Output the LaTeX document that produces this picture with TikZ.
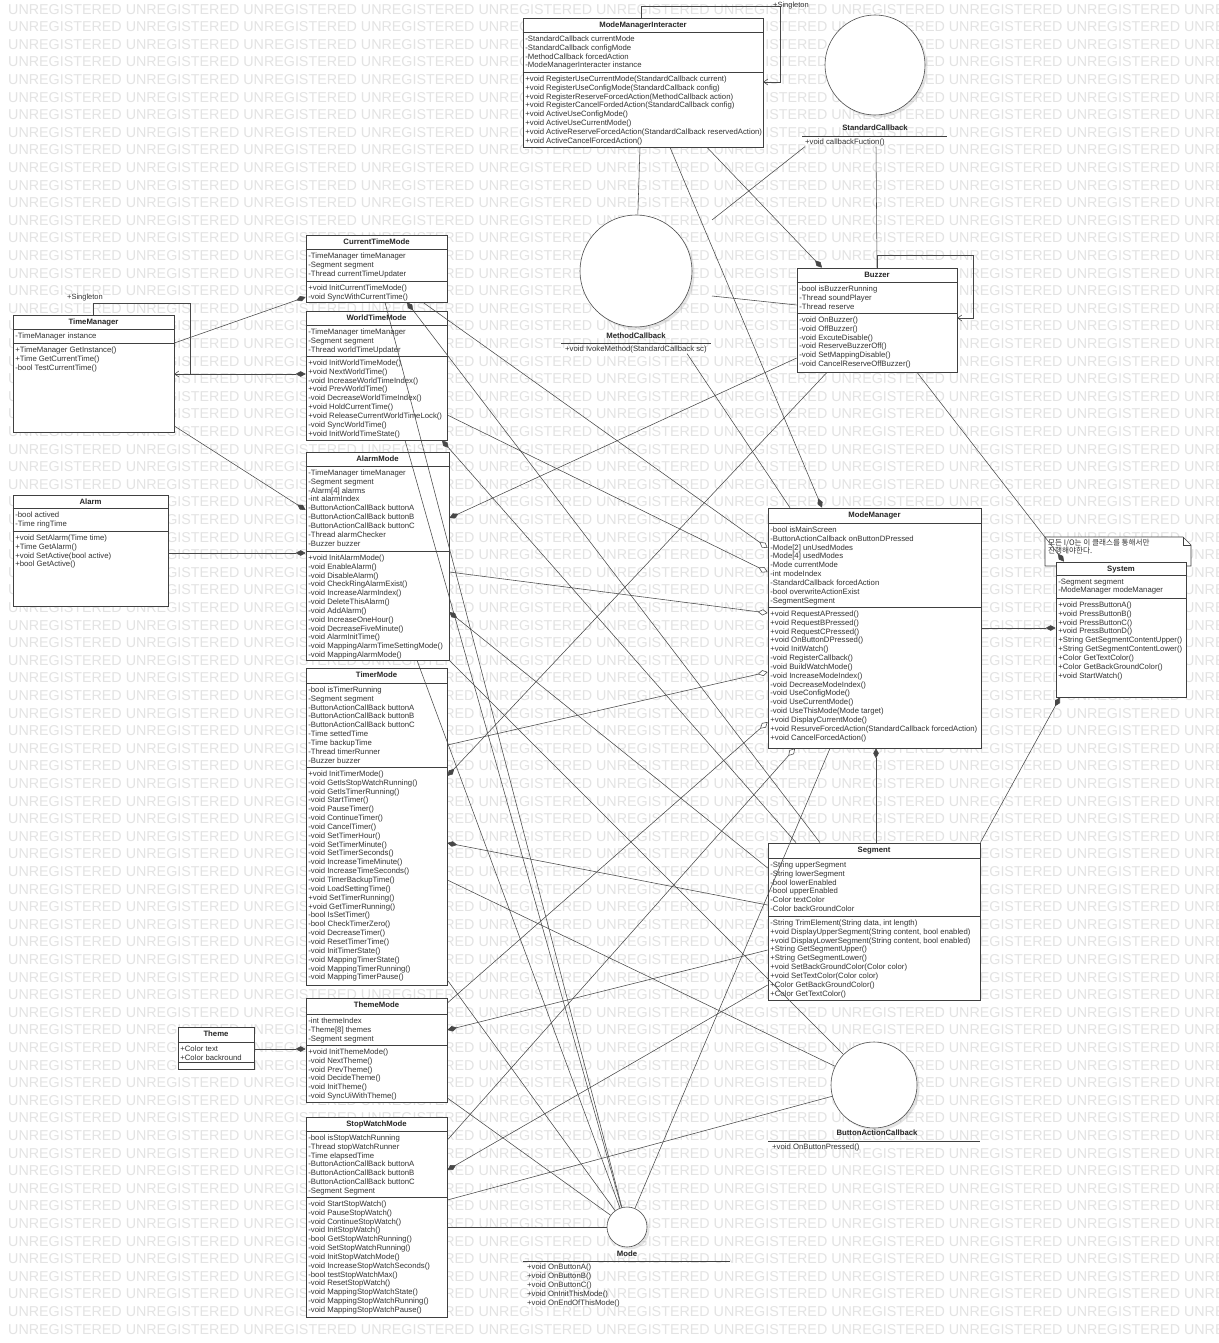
\documentclass[tikz,border=0pt]{standalone}
\usepackage{fontspec}
\setmainfont{Liberation Sans}
\newfontfamily\krfont{Noto Sans CJK KR}
\usetikzlibrary{arrows.meta,calc,fit,shadows}

\tikzset{
  wmark/.style={anchor=west, inner sep=0pt, text=black!11, font=\fontsize{14.3}{14.3}\selectfont},
  classbox/.style={draw=black!75, fill=white, line width=0.7pt, inner sep=0pt},
  classsep/.style={draw=black!75, line width=0.6pt},
  classtitle/.style={inner sep=0pt, text=black!85, font=\fontsize{7.75}{8.85}\selectfont\bfseries},
  members/.style={anchor=north west, inner sep=0pt, align=left, text=black!80, font=\fontsize{7.75}{8.85}\selectfont},
  iface/.style={circle, draw=black!70, fill=white, line width=0.6pt, inner sep=0pt,
    drop shadow={shadow xshift=2.5pt, shadow yshift=-2.5pt, opacity=.2}},
  lbl/.style={inner sep=0pt, text=black!80, font=\fontsize{7.5}{8}\selectfont},
  conn/.style={draw=black!72, line width=0.55pt},
  comp/.style={conn, {Diamond[length=10pt,width=5.5pt]}-},
  agg/.style={conn, {Diamond[open,length=10pt,width=6pt,fill=white]}-},
  navig/.style={conn, -{Straight Barb[length=4pt,width=6pt]}},
}

% class box: name, top left, bottom right, two separators, title, fields, methods
\newcommand{\umlbox}[8]{%
  \node[classbox, fit={(#2) (#3)}] (#1) {};
  \draw[classsep] (#1.west |- 0,#4) -- (#1.east |- 0,#4);
  \draw[classsep] (#1.west |- 0,#5) -- (#1.east |- 0,#5);
  \node[classtitle] (#1-t) at ($(#1.north)+(0,7.5)$) {#6};
  \node[members] (#1-a) at ($(#1.west |- 0,#4)+(2.5,3.5)$) {#7};
  \node[members] (#1-o) at ($(#1.west |- 0,#5)+(2.5,3.5)$) {#8};
}

\newcommand{\wmtext}{UNREGISTERED UNREGISTERED UNREGISTERED UNREGISTERED UNREGISTERED UNREGISTERED UNREGISTERED UNREGISTERED UNREGISTERED UNREGISTERED UNREGISTERED}

\begin{document}
\begin{tikzpicture}[x=1pt,y=-1pt]
  \useasboundingbox (0,0) rectangle (1218,1343);
  \fill[white] (0,0) rectangle (1218,1343);

  % background rows
  \begin{scope}
    \clip (0,0) rectangle (1218,1343);
    \foreach \k in {0,...,75}
      \node[wmark] (wm\k) at (8,9.2+17.6*\k) {\wmtext};
  \end{scope}

  % interfaces
  \node[iface, minimum size=100pt] (sc) at (875,65) {};
  \node[classtitle] (sc-t) at (875,128) {StandardCallback};
  \draw[classsep] (802,136) -- (947,136);
  \node[members] (sc-o) at (805,139) {+void callbackFuction()};

  \node[iface, minimum size=112pt] (mc) at (636,271) {};
  \node[classtitle] (mc-t) at (636,336) {MethodCallback};
  \draw[classsep] (561,343) -- (711,343);
  \node[members] (mc-o) at (565,346) {+void IvokeMethod(StandardCallback sc)};

  \node[iface, minimum size=86pt] (bac) at (874,1085) {};
  \node[classtitle] (bac-t) at (877,1133) {ButtonActionCallback};
  \draw[classsep] (768,1141) -- (980,1141);
  \node[members] (bac-o) at (772,1144) {+void OnButtonPressed()};

  \node[iface, minimum size=40pt] (md) at (627,1227) {};
  \node[classtitle] (md-t) at (627,1254) {Mode};
  \draw[classsep] (523,1261) -- (730,1261);
  \node[members] (md-o) at (527,1264) {+void OnButtonA()\\+void OnButtonB()\\+void OnButtonC()\\+void OnInitThisMode()\\+void OnEndOfThisMode()};

  % classes
  \umlbox{mmi}{523,18}{763,147}{32}{72}{ModeManagerInteracter}
    {-StandardCallback currentMode\\-StandardCallback configMode\\-MethodCallback forcedAction\\-ModeManagerInteracter instance}
    {+void RegisterUseCurrentMode(StandardCallback current)\\+void RegisterUseConfigMode(StandardCallback config)\\+void RegisterReserveForcedAction(MethodCallback action)\\+void RegisterCancelFordedAction(StandardCallback config)\\+void ActiveUseConfigMode()\\+void ActiveUseCurrentMode()\\+void ActiveReserveForcedAction(StandardCallback reservedAction)\\+void ActiveCancelForcedAction()}

  \umlbox{bz}{797,268}{957,372}{282}{313}{Buzzer}
    {-bool isBuzzerRunning\\-Thread soundPlayer\\-Thread reserve}
    {-void OnBuzzer()\\-void OffBuzzer()\\-void ExcuteDisable()\\-void ReserveBuzzerOff()\\-void SetMappingDisable()\\-void CancelReserveOffBuzzer()}

  \umlbox{tm}{13,315}{174,432}{329}{343}{TimeManager}
    {-TimeManager instance}
    {+TimeManager GetInstance()\\+Time GetCurrentTime()\\-bool TestCurrentTime()}

  \umlbox{al}{13,495}{168,606}{508}{531}{Alarm}
    {-bool actived\\-Time ringTime}
    {+void SetAlarm(Time time)\\+Time GetAlarm()\\+void SetActive(bool active)\\+bool GetActive()}

  \umlbox{ctm}{306,235}{447,302}{249}{281}{CurrentTimeMode}
    {-TimeManager timeManager\\-Segment segment\\-Thread currentTimeUpdater}
    {+void InitCurrentTimeMode()\\-void SyncWithCurrentTime()}

  \umlbox{wtm}{306,311}{447,440}{325}{356}{WorldTimeMode}
    {-TimeManager timeManager\\-Segment segment\\-Thread worldTimeUpdater}
    {+void InitWorldTimeMode()\\+void NextWorldTime()\\-void IncreaseWorldTimeIndex()\\+void PrevWorldTime()\\-void DecreaseWorldTimeIndex()\\+void HoldCurrentTime()\\+void ReleaseCurrentWorldTimeLock()\\-void SyncWorldTime()\\+void InitWorldTimeState()}

  \umlbox{am}{306,452}{449,660}{466}{551}{AlarmMode}
    {-TimeManager timeManager\\-Segment segment\\-Alarm[4] alarms\\-int alarmIndex\\-ButtonActionCallBack buttonA\\-ButtonActionCallBack buttonB\\-ButtonActionCallBack buttonC\\-Thread alarmChecker\\-Buzzer buzzer}
    {+void InitAlarmMode()\\-void EnableAlarm()\\-void DisableAlarm()\\-void CheckRingAlarmExist()\\-void IncreaseAlarmIndex()\\-void DeleteThisAlarm()\\-void AddAlarm()\\-void IncreaseOneHour()\\-void DecreaseFiveMinute()\\-void AlarmInitTime()\\-void MappingAlarmTimeSettingMode()\\-void MappingAlarmMode()}

  \umlbox{trm}{306,668}{447,985}{683}{767}{TimerMode}
    {-bool isTimerRunning\\-Segment segment\\-ButtonActionCallBack buttonA\\-ButtonActionCallBack buttonB\\-ButtonActionCallBack buttonC\\-Time settedTime\\-Time backupTime\\-Thread timerRunner\\-Buzzer buzzer}
    {+void InitTimerMode()\\-void GetIsStopWatchRunning()\\-void GetIsTimerRunning()\\-void StartTimer()\\-void PauseTimer()\\-void ContinueTimer()\\-void CancelTimer()\\-void SetTimerHour()\\-void SetTimerMinute()\\-void SetTimerSeconds()\\-void IncreaseTimeMinute()\\-void IncreaseTimeSeconds()\\-void TimerBackupTime()\\-void LoadSettingTime()\\+void SetTimerRunning()\\+void GetTimerRunning()\\-bool IsSetTimer()\\-bool CheckTimerZero()\\-void DecreaseTimer()\\-void ResetTimerTime()\\-void InitTimerState()\\-void MappingTimerState()\\-void MappingTimerRunning()\\-void MappingTimerPause()}

  \umlbox{thm}{306,998}{447,1102}{1014}{1045}{ThemeMode}
    {-int themeIndex\\-Theme[8] themes\\-Segment segment}
    {+void InitThemeMode()\\-void NextTheme()\\-void PrevTheme()\\-void DecideTheme()\\-void InitTheme()\\-void SyncUiWithTheme()}

  \umlbox{th}{178,1027}{254,1069}{1042}{1062}{Theme}
    {+Color text\\+Color backround}
    {}

  \umlbox{swm}{306,1117}{447,1317}{1131}{1197}{StopWatchMode}
    {-bool isStopWatchRunning\\-Thread stopWatchRunner\\-Time elapsedTime\\-ButtonActionCallBack buttonA\\-ButtonActionCallBack buttonB\\-ButtonActionCallBack buttonC\\-Segment Segment}
    {-void StartStopWatch()\\-void PauseStopWatch()\\-void ContinueStopWatch()\\-void InitStopWatch()\\-bool GetStopWatchRunning()\\-void SetStopWatchRunning()\\-void InitStopWatchMode()\\-void IncreaseStopWatchSeconds()\\-bool testStopWatchMax()\\-void ResetStopWatch()\\-void MappingStopWatchState()\\-void MappingStopWatchRunning()\\-void MappingStopWatchPause()}

  \umlbox{mm}{768,508}{981,748}{523}{607}{ModeManager}
    {-bool isMainScreen\\-ButtonActionCallback onButtonDPressed\\-Mode[2] unUsedModes\\-Mode[4] usedModes\\-Mode currentMode\\-int modeIndex\\-StandardCallback forcedAction\\-bool overwriteActionExist\\-SegmentSegment}
    {+void RequestAPressed()\\+void RequestBPressed()\\+void RequestCPressed()\\+void OnButtonDPressed()\\+void InitWatch()\\-void RegisterCallback()\\-void BuildWatchMode()\\-void IncreaseModeIndex()\\-void DecreaseModeIndex()\\-void UseConfigMode()\\-void UseCurrentMode()\\-void UseThisMode(Mode target)\\+void DisplayCurrentMode()\\+void ResurveForcedAction(StandardCallback forcedAction)\\+void CancelForcedAction()}

  \umlbox{seg}{768,843}{980,1000}{858}{916}{Segment}
    {-String upperSegment\\-String lowerSegment\\-bool lowerEnabled\\-bool upperEnabled\\-Color textColor\\-Color backGroundColor}
    {-String TrimElement(String data, int length)\\+void DisplayUpperSegment(String content, bool enabled)\\+void DisplayLowerSegment(String content, bool enabled)\\+String GetSegmentUpper()\\+String GetSegmentLower()\\+void SetBackGroundColor(Color color)\\+void SetTextColor(Color color)\\+Color GetBackGroundColor()\\+Color GetTextColor()}

  % note behind System
  \draw[classsep, fill=white] (1045,537) -- (1183,537) -- (1191,545) -- (1191,566) -- (1045,566) -- cycle;
  \draw[classsep] (1183,537) |- (1191,545);
  \node[members, font=\krfont\fontsize{7.6}{8}\selectfont] (note-t) at (1048,539) {모든 I/O는 이 클래스를 통해서만\\진행해야한다.};

  \umlbox{sys}{1056,562}{1186,697}{575}{598}{System}
    {-Segment segment\\-ModeManager modeManager}
    {+void PressButtonA()\\+void PressButtonB()\\+void PressButtonC()\\+void PressButtonD()\\+String GetSegmentContentUpper()\\+String GetSegmentContentLower()\\+Color GetTextColor()\\+Color GetBackGroundColor()\\+void StartWatch()}

  % singleton loops
  \draw[navig] (mmi.north -| 641,0) |- (780,6) |- (mmi.east |- 0,82);
  \node[lbl] (mmi-s) at (791,6) {+Singleton};
  \draw[navig] (tm.north -| 93,0) |- (190,303) |- (tm.east |- 0,374);
  \node[lbl] (tm-s) at (85,298) {+Singleton};
  \draw[navig] (bz.north -| 877,0) |- (973,255) |- (bz.east |- 0,318);

  % compositions
  \draw[comp] (ctm.west |- 0,297) -- (tm.east |- 0,343);
  \draw[comp] (wtm.west |- 0,374) -- (tm.east |- 0,374);
  \draw[comp] (am.west |- 0,510) -- (tm.east |- 0,426);
  \draw[comp] (am.west |- 0,553) -- (al.east |- 0,553);
  \draw[comp] (thm.west |- 0,1049) -- (th.east |- 0,1049);
  \draw[comp] (bz.north -| 822,0) -- (mmi.south -| 707,0);
  \draw[comp] (mm.north -| 822,0) -- (mmi.south -| 670,0);
  \draw[comp] (am.east |- 0,518) -- (bz.west |- 0,358);
  \draw[comp] (trm.east |- 0,776) -- (bz.south -| 827,0);
  \draw[comp] (sys.north -| 1064,0) -- (bz.south -| 917,0);
  \draw[comp] (sys.west |- 0,628) -- (mm.east |- 0,628);
  \draw[comp] (sys.south -| 1060,0) -- (seg.north east);
  \draw[comp] (mm.south -| 876,0) -- (seg.north -| 876,0);

  % segment owners
  \draw[comp] (ctm.south -| 407,0) -- (seg.north -| 820,0);
  \draw[comp] (wtm.south -| 442,0) -- (seg.north -| 796,0);
  \draw[comp] (am.east |- 0,612) -- (seg.west |- 0,868);
  \draw[comp] (trm.east |- 0,843) -- (seg.west |- 0,905);
  \draw[comp] (thm.east |- 0,1030) -- (seg.west |- 0,950);
  \draw[comp] (swm.east |- 0,1170) -- (seg.west |- 0,985);

  % modes kept by ModeManager
  \draw[agg] (mm.west |- 0,548) -- (ctm.south -| 423,0);
  \draw[agg] (mm.west |- 0,572) -- (wtm.east |- 0,415);
  \draw[agg] (mm.west |- 0,613) -- (am.east |- 0,572);
  \draw[agg] (mm.west |- 0,672) -- (trm.east |- 0,745);
  \draw[agg] (mm.west |- 0,722) -- (thm.east |- 0,1003);
  \draw[agg] (mm.south -| 795,0) -- (swm.east |- 0,1140);

  % callbacks
  \coordinate (mcR1) at (712,220);
  \coordinate (mcR2) at (712,296);
  \draw[conn] (mmi.south -| 640,0) -- (mc);
  \draw[conn] (sc-o.south west) -- (mcR1);
  \draw[conn] (bz.west |- 0,305) -- (mcR2);
  \draw[conn] (sc-o.south -| 876,0) -- (bz.north -| 877,0);
  \draw[conn] (mc-o.south -| 687,0) -- (mm.north -| 790,0);
  \draw[conn] (am.south east) -- (bac);
  \draw[conn] (trm.east |- 0,880) -- (bac);
  \draw[conn] (swm.east |- 0,1200) -- (bac);

  % modes realize Mode
  \draw[conn] (ctm.south -| 385,0) -- (md);
  \draw[conn] (wtm.south -| 405,0) -- (md);
  \draw[conn] (am.south -| 417,0) -- (md);
  \draw[conn] (trm.east |- 0,980) -- (md);
  \draw[conn] (thm.east |- 0,1098) -- (md);
  \draw[conn] (swm.east |- md) -- (md);
  \draw[conn] (mm.south -| 830,0) -- (md);
\end{tikzpicture}
\end{document}
